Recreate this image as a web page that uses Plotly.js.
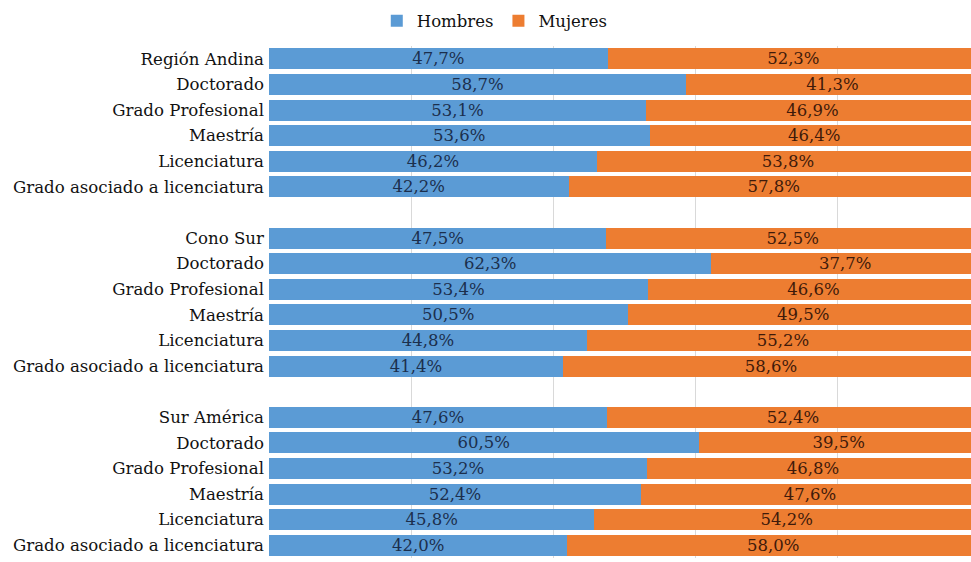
<!DOCTYPE html>
<html>
<head>
<meta charset="utf-8">
<script src="https://cdn.plot.ly/plotly-3.0.1.min.js"></script>
<style>
    html, body { margin: 0; padding: 0; background: #ffffff; overflow: hidden; }
    #chart { width: 979px; height: 562px; }
</style>
</head>
<body>
<div id="chart"></div>
<script>
// Datos por grupo (Hombres / Mujeres, en %)
var groups = ["Región Andina", "Cono Sur", "Sur América"];
var levels = ["Doctorado", "Grado Profesional", "Maestría", "Licenciatura", "Grado asociado a licenciatura"];

var hombres = [
    [47.7, 58.7, 53.1, 53.6, 46.2, 42.2],
    [47.5, 62.3, 53.4, 50.5, 44.8, 41.4],
    [47.6, 60.5, 53.2, 52.4, 45.8, 42.0]
];
var mujeres = [
    [52.3, 41.3, 46.9, 46.4, 53.8, 57.8],
    [52.5, 37.7, 46.6, 49.5, 55.2, 58.6],
    [52.4, 39.5, 46.8, 47.6, 54.2, 58.0]
];

function fmt(v) {
    return v.toFixed(1).replace(".", ",") + "%";
}

// filas: grupo + niveles, con una fila vacía entre grupos
var rowPos = [];
var rowLabels = [];
var yH = [], xH = [], tH = [];
var yM = [], xM = [], tM = [];
var row = 0;
for (var g = 0; g < groups.length; g++) {
    var names = [groups[g]].concat(levels);
    for (var i = 0; i < names.length; i++) {
        rowPos.push(row);
        rowLabels.push(names[i]);
        yH.push(row); xH.push(hombres[g][i]); tH.push(fmt(hombres[g][i]));
        yM.push(row); xM.push(mujeres[g][i]); tM.push(fmt(mujeres[g][i]));
        row++;
    }
    row++; // fila vacía
}
var lastRow = row - 2;

var traceH = {
    type: "bar",
    orientation: "h",
    name: "Hombres",
    x: xH,
    y: yH,
    text: tH,
    textposition: "inside",
    insidetextanchor: "middle",
    textangle: 0,
    constraintext: "none",
    textfont: { family: "DejaVu Serif", size: 16.5, color: "#1b2f4d" },
    marker: { color: "#5b9bd5" },
    hoverinfo: "skip"
};

var traceM = {
    type: "bar",
    orientation: "h",
    name: "Mujeres",
    x: xM,
    y: yM,
    text: tM,
    textposition: "inside",
    insidetextanchor: "middle",
    textangle: 0,
    constraintext: "none",
    textfont: { family: "DejaVu Serif", size: 16.5, color: "#3f1a0a" },
    marker: { color: "#ed7d31" },
    hoverinfo: "skip"
};

var layout = {
    width: 979,
    height: 562,
    barmode: "stack",
    bargap: 0.18,
    showlegend: true,
    paper_bgcolor: "#ffffff",
    plot_bgcolor: "#ffffff",
    margin: { l: 269, r: 0, t: 46, b: 4, pad: 0 },
    font: { family: "DejaVu Serif", color: "#111111" },
    xaxis: {
        range: [0, 100],
        dtick: 20,
        showgrid: true,
        gridcolor: "#d9d9d9",
        gridwidth: 1,
        zeroline: false,
        showticklabels: false,
        showline: false,
        fixedrange: true
    },
    yaxis: {
        range: [lastRow + 0.5, -0.5],
        tickvals: rowPos,
        ticktext: rowLabels,
        tickfont: { family: "DejaVu Serif", size: 16.6, color: "#111111" },
        ticks: "",
        ticklabelstandoff: 4,
        showgrid: false,
        zeroline: false,
        showline: false,
        fixedrange: true
    },
    legend: {
        orientation: "h",
        traceorder: "normal",
        x: 0.318,
        xanchor: "center",
        y: 1.049,
        yanchor: "middle",
        font: { family: "DejaVu Serif", size: 16.5, color: "#111111" },
        itemwidth: 30,
        bgcolor: "rgba(0,0,0,0)"
    }
};

Plotly.newPlot("chart", [traceH, traceM], layout, { displayModeBar: false, staticPlot: true });
</script>
</body>
</html>
